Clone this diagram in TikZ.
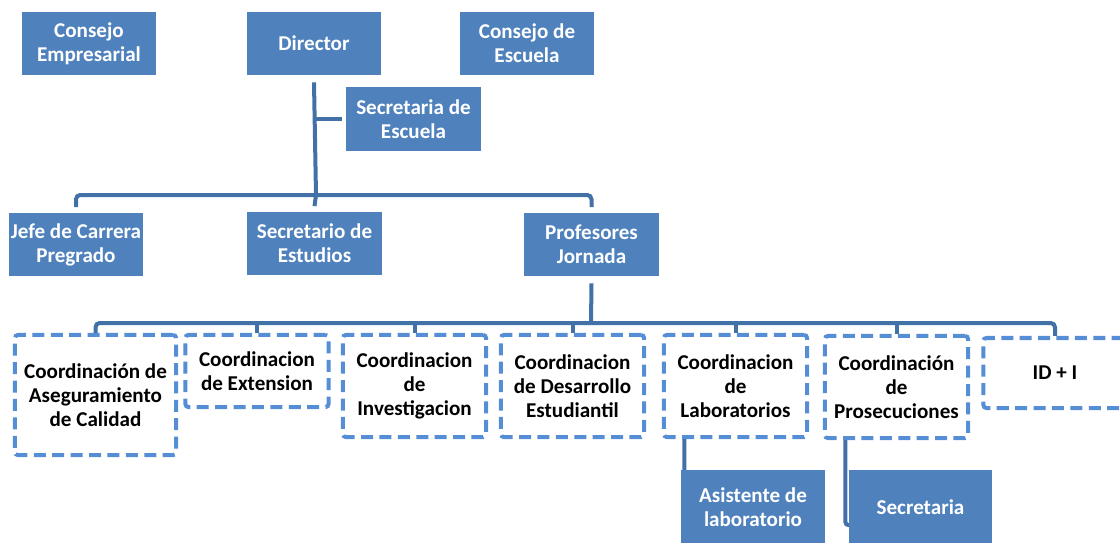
\documentclass[tikz,border=0pt]{standalone}
\usepackage{fontspec}
\setmainfont{Carlito}
\definecolor{boxBlue}{HTML}{4F81BD}
\definecolor{lineBlue}{HTML}{4171A7}
\definecolor{dashBlue}{HTML}{558ED5}

\begin{document}
\begin{tikzpicture}[x=0.025cm, y=-0.025cm,
	unitBox/.style={shape=rectangle, fill=boxBlue, text=white, align=center, inner sep=1pt,
		minimum width=3.35cm, minimum height=1.575cm, font=\fontsize{15}{17}\selectfont\bfseries},
	coordBox/.style={shape=rectangle, draw=dashBlue, line width=0.1cm, dash pattern=on 0.3cm off 0.16cm,
		rounded corners=2pt, align=center, inner sep=1pt, minimum width=3.575cm, minimum height=2.55cm,
		font=\fontsize{15}{17}\selectfont\bfseries},
	link/.style={draw=lineBlue, line width=0.1cm}]
	\useasboundingbox (0,0) rectangle (1120,542);

	% --- Direccion ---
	\node[unitBox] (consEmp) at (89, 43.5) {Consejo\\Empresarial};
	\node[unitBox] (director) at (314, 43.5) {Director};
	\node[unitBox] (consEsc) at (527, 43.5) {Consejo de\\Escuela};
	\node[unitBox] (secEsc) at (413.5, 119) {Secretaria de\\Escuela};

	% --- Segundo nivel ---
	\node[unitBox] (jefe) at (76, 244.5) {Jefe de Carrera\\Pregrado};
	\node[unitBox] (secEst) at (314.5, 243.5) {Secretario de\\Estudios};
	\node[unitBox] (prof) at (591.5, 244.5) {Profesores\\Jornada};

	% --- Coordinaciones (gestrichelt) ---
	\node[coordBox, minimum width=4.025cm, minimum height=3cm] (coAseg) at (95.5, 395) {Coordinación de\\Aseguramiento\\de Calidad};
	\node[coordBox, minimum height=1.8cm] (coExt) at (257, 371) {Coordinacion\\de Extension};
	\node[coordBox] (coInv) at (414.5, 386) {Coordinacion\\de\\Investigacion};
	\node[coordBox] (coDes) at (572.5, 386) {Coordinacion\\de Desarrollo\\Estudiantil};
	\node[coordBox] (coLab) at (735.5, 386) {Coordinacion\\de\\Laboratorios};
	\node[coordBox] (coPros) at (896.5, 387) {Coordinación\\de\\Prosecuciones};
	\node[coordBox, minimum height=1.75cm] (coIdi) at (1055, 373) {ID + I};

	% --- Hilfspunkte fuer die Schienen ---
	\coordinate (railTop) at (316, 195);
	\coordinate (railLow) at (591, 323);

	% --- Verbindungen ---
	\draw[link] ([yshift=-5pt]director.south) -- (railTop);
	\draw[link] (railTop |- secEsc.west) -- ([xshift=-3pt]secEsc.west);
	\draw[link, rounded corners=3pt] ([yshift=4pt]jefe.north) |- (railTop) -| ([yshift=4pt]prof.north);
	\draw[link] (railTop) -- ([yshift=4pt]secEst.north);
	\draw[link] ([yshift=-5pt]prof.south) -- (railLow);
	\draw[link, rounded corners=3pt] (coAseg.north) |- (railLow) -| (coIdi.north);
	\foreach \co in {coExt, coInv, coDes, coLab, coPros}
		\draw[link] (\co.north |- railLow) -- (\co.north);

	% --- Unterstellte Stellen ---
	\draw[link, rounded corners=2pt] ([xshift=16pt]coLab.south west) |- (727, 525);
	\draw[link, rounded corners=2pt] ([xshift=16pt]coPros.south west) |- (890, 525);
	\node[unitBox, minimum width=3.6cm, minimum height=1.85cm] (asist) at (753, 507) {Asistente de\\laboratorio};
	\node[unitBox, minimum width=3.575cm, minimum height=1.85cm] (secr) at (920.5, 507) {Secretaria};

\end{tikzpicture}
\end{document}
